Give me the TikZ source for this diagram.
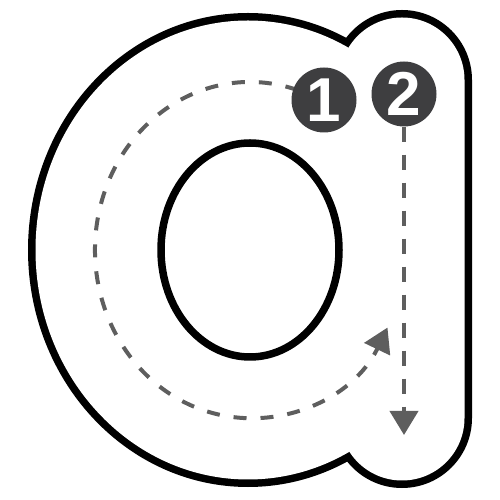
\documentclass[tikz,border=0pt]{standalone}
\usepackage{fontspec}
\setmainfont{Liberation Sans}
\usetikzlibrary{arrows.meta}
\definecolor{dashgray}{HTML}{5E5E5E}
\definecolor{badgegray}{HTML}{3E3E40}
\begin{document}
\begin{tikzpicture}[x=1pt,y=1pt,
  outline/.style={draw=black,line width=15pt},
  hole/.style={draw=black,line width=7.5pt},
  guide/.style={draw=dashgray,line width=4pt,dash pattern=on 13pt off 14pt},
  tip/.style={-{Triangle[width=28pt,length=24pt]}},
  badge/.style={circle,fill=badgegray,minimum size=65pt,inner sep=0pt,text=white,
    font=\fontsize{62}{62}\bfseries\selectfont}]
\useasboundingbox (0,0) rectangle (500,500);
% letter outline (union of bowl and stem)
\path[outline] (248,250) ellipse [x radius=212.5,y radius=229.5];
\path[outline] (339.5,82) -- (339.5,420) arc[start angle=180,end angle=0,radius=62.5] -- (464.5,82) arc[start angle=0,end angle=-180,radius=62.5] -- cycle;
\fill[white] (248,250) ellipse [x radius=212.5,y radius=229.5];
\fill[white] (339.5,82) -- (339.5,420) arc[start angle=180,end angle=0,radius=62.5] -- (464.5,82) arc[start angle=0,end angle=-180,radius=62.5] -- cycle;
% counter
\path[hole] (250,250) ellipse [x radius=89,y radius=107];
% guide 1
\draw[guide,tip] (250,250) ++(72:155 and 168) coordinate (g1s)
  arc[start angle=72,end angle=332.5,x radius=155,y radius=168] coordinate (g1e);
% badges
\node[badge] (b1) at (324,400) {1};
\node[badge] (b2) at (404,406) {2};
% guide 2
\coordinate (g2e) at (404,65);
\draw[guide,tip,dash pattern=on 15pt off 13pt] (b2.south) -- (g2e);
\end{tikzpicture}
\end{document}
